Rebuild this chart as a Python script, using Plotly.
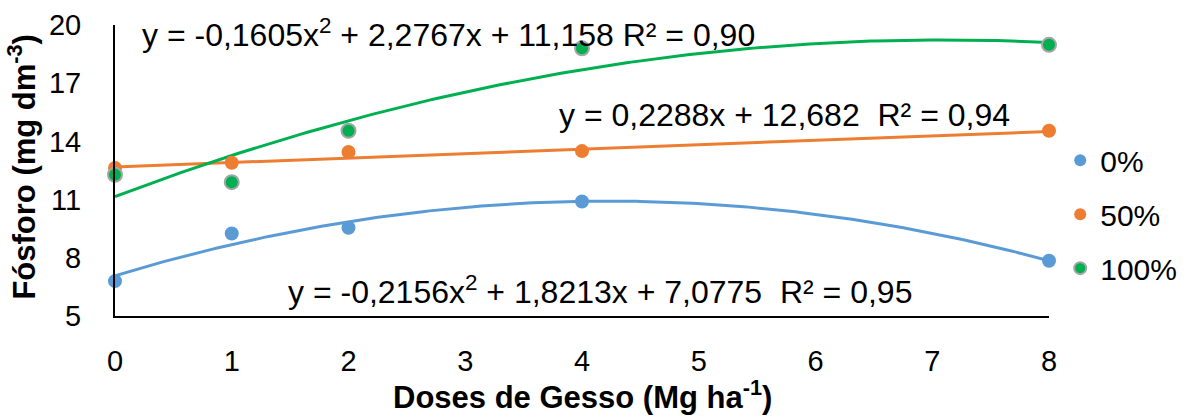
import numpy as np
import plotly.graph_objects as go

doses = [0, 1, 2, 4, 8]
p0 = [6.8, 9.25, 9.55, 10.9, 7.85]
p50 = [12.63, 12.9, 13.45, 13.5, 14.55]
p100 = [12.28, 11.9, 14.55, 18.8, 18.98]

# trendline coefficients (highest power first), as shown on the chart
c0 = [-0.2156, 1.8213, 7.0775]
c50 = [0.2288, 12.682]
c100 = [-0.1605, 2.2767, 11.158]

names = ["0%", "50%", "100%"]
colors = ["#5B9BD5", "#ED7D31", "#00B050"]
x_ticks = [0, 1, 2, 3, 4, 5, 6, 7, 8]
y_ticks = [5, 8, 11, 14, 17, 20]

xs = np.linspace(0, 8, 200)
fig = go.Figure()
for c, col in [(c0, colors[0]), (c50, colors[1]), (c100, colors[2])]:
    fig.add_trace(go.Scatter(x=xs, y=np.polyval(c, xs), mode="lines",
                             line=dict(color=col, width=3), showlegend=False,
                             hoverinfo="skip", cliponaxis=False))
for y, n, col in [(p0, names[0], colors[0]), (p50, names[1], colors[1]), (p100, names[2], colors[2])]:
    mk = dict(color=col, size=14)
    if n == "100%":
        mk["line"] = dict(color="#A5A5A5", width=2)
    fig.add_trace(go.Scatter(x=doses, y=y, mode="markers", name=n, marker=mk,
                             legendgroup=n, cliponaxis=False))

font = "Liberation Sans, Arial, sans-serif"
ann_font = dict(family=font, size=32, color="black")
fig.add_annotation(x=0.214, y=19.6, xref="x", yref="y", xanchor="left", yanchor="middle",
                   text="y = -0,1605x<sup>2</sup> + 2,2767x + 11,158 R² = 0,90",
                   showarrow=False, font=ann_font)
fig.add_annotation(x=3.79, y=15.36, xref="x", yref="y", xanchor="left", yanchor="middle",
                   text="y = 0,2288x + 12,682  R² = 0,94",
                   showarrow=False, font=ann_font)
fig.add_annotation(x=1.466, y=6.34, xref="x", yref="y", xanchor="left", yanchor="middle",
                   text="y = -0,2156x<sup>2</sup> + 1,8213x + 7,0775  R² = 0,95",
                   showarrow=False, font=ann_font)
# axis titles
fig.add_annotation(x=0.5, y=-0.27, xref="paper", yref="paper", xanchor="center", yanchor="middle",
                   text="<b>Doses de Gesso (Mg ha<sup>-1</sup>)</b>", showarrow=False,
                   font=dict(family=font, size=31, color="black"))
fig.add_annotation(x=-0.1, y=0.512, xref="paper", yref="paper", xanchor="center", yanchor="middle",
                   text="<b>Fósforo (mg dm<sup>-3</sup>)</b>", textangle=-90, showarrow=False,
                   font=dict(family=font, size=31, color="black"))

fig.update_layout(
    width=1187, height=417,
    margin=dict(l=115, r=138, t=25, b=101, autoexpand=False),
    paper_bgcolor="white", plot_bgcolor="white",
    font=dict(family=font, color="black", size=29),
    legend=dict(x=1.012, y=0.35, xanchor="left", yanchor="middle",
                font=dict(size=30, family=font), itemsizing="constant",
                tracegroupgap=12, itemwidth=30, traceorder="grouped"),
    xaxis=dict(range=[0, 8], tickvals=x_ticks, showgrid=False, zeroline=False,
               showline=True, linecolor="black", linewidth=2,
               ticks="outside", ticklen=18, tickcolor="rgba(0,0,0,0)",
               tickfont=dict(size=29, family=font, color="black"), automargin=False),
    yaxis=dict(range=[5, 20], tickvals=y_ticks, showgrid=False, zeroline=False,
               showline=True, linecolor="black", linewidth=2,
               ticks="outside", ticklen=26, tickcolor="rgba(0,0,0,0)",
               tickfont=dict(size=29, family=font, color="black"), automargin=False),
)
fig.write_html("out.html", config={"displayModeBar": False},
               post_script="document.body.style.margin='0px';document.body.style.overflow='hidden';")
